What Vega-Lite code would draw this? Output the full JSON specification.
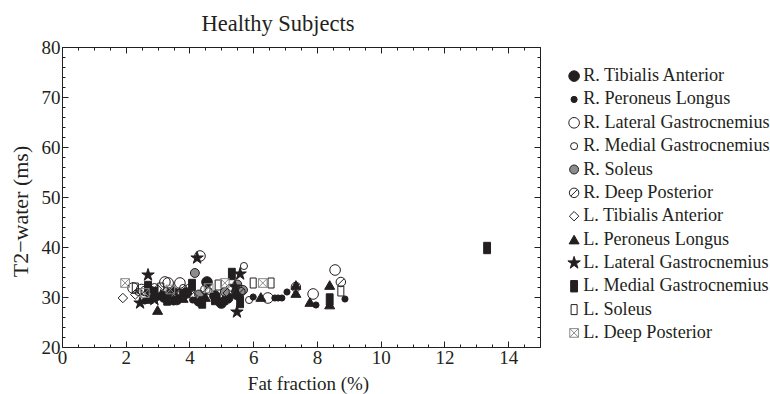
{
  "$schema": "https://vega.github.io/schema/vega-lite/v6.json",
  "autosize": "none",
  "width": 478,
  "height": 300,
  "padding": {"left": 62, "top": 47, "right": 230, "bottom": 47},
  "background": "white",
  "config": {
    "view": {"stroke": null},
    "font": "Liberation Serif, Times New Roman, serif",
    "axis": {"labelFont": "Liberation Serif, Times New Roman, serif", "titleFont": "Liberation Serif, Times New Roman, serif", "labelColor": "#231f20", "titleColor": "#231f20", "domainColor": "#231f20", "tickColor": "#231f20", "grid": false, "titleFontWeight": "normal", "labelFontSize": 19, "titleFontSize": 19}
  },
  "title": {"text": "Healthy Subjects", "font": "Liberation Serif, Times New Roman, serif", "fontSize": 22.5, "fontWeight": "normal", "color": "#231f20", "anchor": "middle", "baseline": "alphabetic", "offset": 16, "dy": 31, "dx": -23},
  "data": {"values": [
    {"m": "R. Tibialis Anterior", "ff": 4.55, "t2": 33.0},
    {"m": "R. Tibialis Anterior", "ff": 3.2, "t2": 30.0},
    {"m": "R. Tibialis Anterior", "ff": 3.6, "t2": 29.5},
    {"m": "R. Tibialis Anterior", "ff": 4.3, "t2": 29.2},
    {"m": "R. Tibialis Anterior", "ff": 5.2, "t2": 29.8},
    {"m": "R. Tibialis Anterior", "ff": 5.0, "t2": 28.8},
    {"m": "R. Tibialis Anterior", "ff": 2.8, "t2": 30.4},
    {"m": "R. Tibialis Anterior", "ff": 3.9, "t2": 30.8},
    {"m": "R. Tibialis Anterior", "ff": 4.8, "t2": 30.2},
    {"m": "R. Tibialis Anterior", "ff": 5.5, "t2": 30.5},
    {"m": "R. Peroneus Longus", "ff": 6.0, "t2": 30.0},
    {"m": "R. Peroneus Longus", "ff": 6.68, "t2": 29.8},
    {"m": "R. Peroneus Longus", "ff": 6.78, "t2": 29.8},
    {"m": "R. Peroneus Longus", "ff": 6.9, "t2": 29.8},
    {"m": "R. Peroneus Longus", "ff": 7.06, "t2": 31.0},
    {"m": "R. Peroneus Longus", "ff": 7.97, "t2": 28.4},
    {"m": "R. Peroneus Longus", "ff": 8.88, "t2": 29.6},
    {"m": "R. Peroneus Longus", "ff": 3.0, "t2": 30.0},
    {"m": "R. Peroneus Longus", "ff": 3.5, "t2": 29.0},
    {"m": "R. Peroneus Longus", "ff": 4.1, "t2": 29.4},
    {"m": "R. Peroneus Longus", "ff": 2.6, "t2": 29.2},
    {"m": "R. Lateral Gastrocnemius", "ff": 4.33, "t2": 38.2},
    {"m": "R. Lateral Gastrocnemius", "ff": 3.33, "t2": 32.8},
    {"m": "R. Lateral Gastrocnemius", "ff": 3.7, "t2": 32.8},
    {"m": "R. Lateral Gastrocnemius", "ff": 6.46, "t2": 29.8},
    {"m": "R. Lateral Gastrocnemius", "ff": 7.88, "t2": 30.6},
    {"m": "R. Lateral Gastrocnemius", "ff": 8.57, "t2": 35.4},
    {"m": "R. Lateral Gastrocnemius", "ff": 2.23, "t2": 31.8},
    {"m": "R. Lateral Gastrocnemius", "ff": 3.23, "t2": 33.0},
    {"m": "R. Lateral Gastrocnemius", "ff": 4.0, "t2": 31.5},
    {"m": "R. Lateral Gastrocnemius", "ff": 5.3, "t2": 31.5},
    {"m": "R. Lateral Gastrocnemius", "ff": 2.5, "t2": 31.5},
    {"m": "R. Medial Gastrocnemius", "ff": 5.71, "t2": 36.2},
    {"m": "R. Medial Gastrocnemius", "ff": 5.87, "t2": 29.4},
    {"m": "R. Medial Gastrocnemius", "ff": 4.6, "t2": 31.2},
    {"m": "R. Medial Gastrocnemius", "ff": 2.9, "t2": 32.0},
    {"m": "R. Medial Gastrocnemius", "ff": 3.8, "t2": 31.8},
    {"m": "R. Medial Gastrocnemius", "ff": 2.4, "t2": 31.0},
    {"m": "R. Soleus", "ff": 4.17, "t2": 34.8},
    {"m": "R. Soleus", "ff": 5.11, "t2": 31.0},
    {"m": "R. Soleus", "ff": 5.68, "t2": 31.4},
    {"m": "R. Soleus", "ff": 3.5, "t2": 31.0},
    {"m": "R. Soleus", "ff": 4.3, "t2": 30.5},
    {"m": "R. Soleus", "ff": 2.8, "t2": 31.2},
    {"m": "R. Soleus", "ff": 5.5, "t2": 32.5},
    {"m": "R. Deep Posterior", "ff": 8.75, "t2": 33.0},
    {"m": "R. Deep Posterior", "ff": 7.34, "t2": 32.0},
    {"m": "R. Deep Posterior", "ff": 3.3, "t2": 31.0},
    {"m": "R. Deep Posterior", "ff": 4.5, "t2": 31.5},
    {"m": "R. Deep Posterior", "ff": 5.6, "t2": 31.0},
    {"m": "R. Deep Posterior", "ff": 2.6, "t2": 31.2},
    {"m": "L. Tibialis Anterior", "ff": 1.91, "t2": 29.8},
    {"m": "L. Tibialis Anterior", "ff": 2.3, "t2": 30.5},
    {"m": "L. Tibialis Anterior", "ff": 3.0, "t2": 31.5},
    {"m": "L. Tibialis Anterior", "ff": 4.1, "t2": 30.2},
    {"m": "L. Tibialis Anterior", "ff": 3.6, "t2": 30.6},
    {"m": "L. Tibialis Anterior", "ff": 5.2, "t2": 30.8},
    {"m": "L. Peroneus Longus", "ff": 3.0, "t2": 27.4},
    {"m": "L. Peroneus Longus", "ff": 5.05, "t2": 29.4},
    {"m": "L. Peroneus Longus", "ff": 6.24, "t2": 30.0},
    {"m": "L. Peroneus Longus", "ff": 7.34, "t2": 32.4},
    {"m": "L. Peroneus Longus", "ff": 7.34, "t2": 30.8},
    {"m": "L. Peroneus Longus", "ff": 7.78, "t2": 29.0},
    {"m": "L. Peroneus Longus", "ff": 8.4, "t2": 32.4},
    {"m": "L. Peroneus Longus", "ff": 8.4, "t2": 28.5},
    {"m": "L. Peroneus Longus", "ff": 2.7, "t2": 29.6},
    {"m": "L. Peroneus Longus", "ff": 3.8, "t2": 29.8},
    {"m": "L. Peroneus Longus", "ff": 4.5, "t2": 30.0},
    {"m": "L. Peroneus Longus", "ff": 3.3, "t2": 30.6},
    {"m": "L. Lateral Gastrocnemius", "ff": 2.7, "t2": 34.4},
    {"m": "L. Lateral Gastrocnemius", "ff": 2.45, "t2": 28.8},
    {"m": "L. Lateral Gastrocnemius", "ff": 4.24, "t2": 37.8},
    {"m": "L. Lateral Gastrocnemius", "ff": 5.59, "t2": 34.6},
    {"m": "L. Lateral Gastrocnemius", "ff": 5.49, "t2": 27.0},
    {"m": "L. Lateral Gastrocnemius", "ff": 5.43, "t2": 32.0},
    {"m": "L. Lateral Gastrocnemius", "ff": 3.1, "t2": 30.2},
    {"m": "L. Lateral Gastrocnemius", "ff": 3.5, "t2": 31.2},
    {"m": "L. Lateral Gastrocnemius", "ff": 2.9, "t2": 29.5},
    {"m": "L. Medial Gastrocnemius", "ff": 13.34, "t2": 39.8},
    {"m": "L. Medial Gastrocnemius", "ff": 8.4, "t2": 29.5},
    {"m": "L. Medial Gastrocnemius", "ff": 5.33, "t2": 34.6},
    {"m": "L. Medial Gastrocnemius", "ff": 5.59, "t2": 29.0},
    {"m": "L. Medial Gastrocnemius", "ff": 4.08, "t2": 32.4},
    {"m": "L. Medial Gastrocnemius", "ff": 2.7, "t2": 32.0},
    {"m": "L. Medial Gastrocnemius", "ff": 3.3, "t2": 29.5},
    {"m": "L. Medial Gastrocnemius", "ff": 3.8, "t2": 30.4},
    {"m": "L. Medial Gastrocnemius", "ff": 4.8, "t2": 29.6},
    {"m": "L. Medial Gastrocnemius", "ff": 2.9, "t2": 30.8},
    {"m": "L. Medial Gastrocnemius", "ff": 4.4, "t2": 28.9},
    {"m": "L. Soleus", "ff": 8.75, "t2": 31.2},
    {"m": "L. Soleus", "ff": 6.0, "t2": 32.8},
    {"m": "L. Soleus", "ff": 6.56, "t2": 32.8},
    {"m": "L. Soleus", "ff": 4.9, "t2": 32.4},
    {"m": "L. Soleus", "ff": 3.1, "t2": 31.8},
    {"m": "L. Soleus", "ff": 2.3, "t2": 31.8},
    {"m": "L. Deep Posterior", "ff": 1.98, "t2": 32.8},
    {"m": "L. Deep Posterior", "ff": 5.11, "t2": 32.8},
    {"m": "L. Deep Posterior", "ff": 6.3, "t2": 32.8},
    {"m": "L. Deep Posterior", "ff": 3.4, "t2": 31.5},
    {"m": "L. Deep Posterior", "ff": 4.6, "t2": 31.8},
    {"m": "L. Deep Posterior", "ff": 2.6, "t2": 30.8}
  ]},
  "resolve": {"axis": {"x": "independent", "y": "independent"}},
  "layer": [
    {
      "mark": {"type": "point", "filled": true, "strokeWidth": 1, "opacity": 1},
      "encoding": {
        "x": {"field": "ff", "type": "quantitative", "title": "Fat fraction (%)",
          "scale": {"domain": [0, 15], "nice": false, "zero": false},
          "axis": {"values": [0,0.5,1,1.5,2,2.5,3,3.5,4,4.5,5,5.5,6,6.5,7,7.5,8,8.5,9,9.5,10,10.5,11,11.5,12,12.5,13,13.5,14,14.5,15],
            "labelExpr": "datum.value % 2 === 0 ? '' + datum.value : ''",
            "tickSize": {"condition": {"test": "datum.value % 2 === 0", "value": -6}, "value": -3},
            "labelPadding": 7, "titlePadding": 4, "titleX": 246, "labelFlush": false, "labelOverlap": false}},
        "y": {"field": "t2", "type": "quantitative", "title": "T2−water (ms)",
          "scale": {"domain": [20, 80], "nice": false, "zero": false},
          "axis": {"values": [20,22,24,26,28,30,32,34,36,38,40,42,44,46,48,50,52,54,56,58,60,62,64,66,68,70,72,74,76,78,80],
            "labelExpr": "datum.value % 10 === 0 ? '' + datum.value : ''",
            "tickSize": {"condition": {"test": "datum.value % 10 === 0", "value": -6}, "value": -3},
            "labelPadding": 8, "titlePadding": 9, "titleFontSize": 22, "titleY": 164, "labelFlush": false, "labelOverlap": false}},
        "shape": {"field": "m", "type": "nominal", "title": null,
          "scale": {"domain": ["R. Tibialis Anterior","R. Peroneus Longus","R. Lateral Gastrocnemius","R. Medial Gastrocnemius","R. Soleus","R. Deep Posterior","L. Tibialis Anterior","L. Peroneus Longus","L. Lateral Gastrocnemius","L. Medial Gastrocnemius","L. Soleus","L. Deep Posterior"],
            "range": ["circle","circle","circle","circle","circle",
              "M1,0 A1,1 0 1,1 -1,0 A1,1 0 1,1 1,0 Z M-0.7,0.7 L0.7,-0.7",
              "diamond","triangle-up",
              "M0,-1 L0.225,-0.309 L0.951,-0.309 L0.363,0.118 L0.588,0.809 L0,0.382 L-0.588,0.809 L-0.363,0.118 L-0.951,-0.309 L-0.225,-0.309 Z",
              "M-0.6,-1 L0.6,-1 L0.6,1 L-0.6,1 Z",
              "M-0.6,-1 L0.6,-1 L0.6,1 L-0.6,1 Z",
              "M-1,-1 L1,-1 L1,1 L-1,1 Z M-1,-1 L1,1 M1,-1 L-1,1"]},
          "legend": {"orient": "none", "legendX": 503, "legendY": 20, "labelFont": "Liberation Serif, Times New Roman, serif", "labelFontSize": 18.2, "labelColor": "#231f20", "rowPadding": 4.35, "labelOffset": 0, "symbolStrokeWidth": 1, "labelLimit": 260}},
        "fill": {"field": "m", "type": "nominal", "title": null,
          "scale": {"domain": ["R. Tibialis Anterior","R. Peroneus Longus","R. Lateral Gastrocnemius","R. Medial Gastrocnemius","R. Soleus","R. Deep Posterior","L. Tibialis Anterior","L. Peroneus Longus","L. Lateral Gastrocnemius","L. Medial Gastrocnemius","L. Soleus","L. Deep Posterior"],
            "range": ["#231f20","#231f20","transparent","transparent","#8c8c8c","transparent","transparent","#231f20","#231f20","#231f20","transparent","transparent"]}},
        "stroke": {"field": "m", "type": "nominal", "title": null,
          "scale": {"domain": ["R. Tibialis Anterior","R. Peroneus Longus","R. Lateral Gastrocnemius","R. Medial Gastrocnemius","R. Soleus","R. Deep Posterior","L. Tibialis Anterior","L. Peroneus Longus","L. Lateral Gastrocnemius","L. Medial Gastrocnemius","L. Soleus","L. Deep Posterior"],
            "range": ["#231f20","#231f20","#231f20","#231f20","#231f20","#231f20","#231f20","#231f20","#231f20","#231f20","#231f20","#8a8a8a"]}},
        "size": {"field": "m", "type": "nominal", "title": null,
          "scale": {"type": "ordinal", "domain": ["R. Tibialis Anterior","R. Peroneus Longus","R. Lateral Gastrocnemius","R. Medial Gastrocnemius","R. Soleus","R. Deep Posterior","L. Tibialis Anterior","L. Peroneus Longus","L. Lateral Gastrocnemius","L. Medial Gastrocnemius","L. Soleus","L. Deep Posterior"],
            "range": [113, 38, 113, 50, 80, 90, 90, 100, 170, 130, 100, 75]}}
      }
    },
    {
      "mark": {"type": "point", "opacity": 0},
      "encoding": {
        "x": {"field": "ff", "type": "quantitative",
          "scale": {"domain": [0, 15], "nice": false, "zero": false},
          "axis": {"orient": "top", "title": null, "labels": false,
            "values": [0,0.5,1,1.5,2,2.5,3,3.5,4,4.5,5,5.5,6,6.5,7,7.5,8,8.5,9,9.5,10,10.5,11,11.5,12,12.5,13,13.5,14,14.5,15],
            "tickSize": {"condition": {"test": "datum.value % 2 === 0", "value": -6}, "value": -3}}},
        "y": {"field": "t2", "type": "quantitative",
          "scale": {"domain": [20, 80], "nice": false, "zero": false},
          "axis": {"orient": "right", "title": null, "labels": false,
            "values": [20,22,24,26,28,30,32,34,36,38,40,42,44,46,48,50,52,54,56,58,60,62,64,66,68,70,72,74,76,78,80],
            "tickSize": {"condition": {"test": "datum.value % 10 === 0", "value": -6}, "value": -3}}}
      }
    }
  ]
}
